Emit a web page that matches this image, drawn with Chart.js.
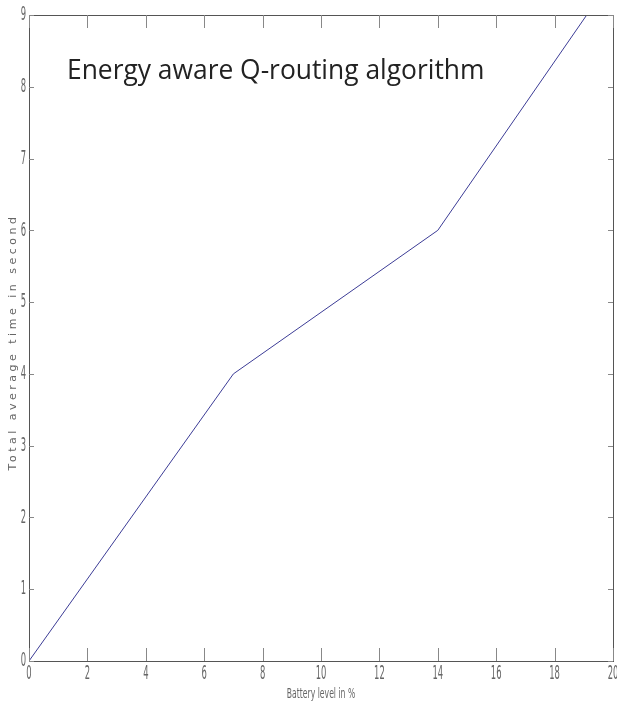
<!DOCTYPE html>
<html>
<head>
<meta charset="utf-8">
<script src="https://cdn.jsdelivr.net/npm/chart.js@4/dist/chart.umd.min.js"></script>
<style>
  html, body { margin: 0; padding: 0; background: #fff; }
  #wrap { width: 617px; height: 706px; }
</style>
</head>
<body>
<div id="wrap"><canvas id="lineChart"></canvas></div>
<script>
const batteryLevel = [0, 7, 14, 19.1];
const avgTime = [0, 4, 6, 9];
const xTicks = [0, 2, 4, 6, 8, 10, 12, 14, 16, 18, 20];
const yTicks = [0, 1, 2, 3, 4, 5, 6, 7, 8, 9];
const titleText = 'Energy aware Q-routing algorithm';
const yTitle = 'Total average time in second';
const xTitle = 'Battery level in %';

const axisColor = '#555';
const labelColor = '#666';

// squeezed text, the picture uses a very narrow font
function narrowText(ctx, text, x, y, size, squeeze, align) {
  ctx.save();
  ctx.translate(x, y);
  ctx.scale(squeeze, 1);
  ctx.font = size + 'px "DejaVu Sans", sans-serif';
  ctx.textAlign = align;
  ctx.textBaseline = 'middle';
  ctx.fillText(text, 0, 0);
  ctx.restore();
}

// box round the plot, inward ticks on all four sides, labels and title
const frame = {
  id: 'frame',
  afterDraw(chart) {
    const { ctx, chartArea: a, scales } = chart;
    ctx.save();
    ctx.strokeStyle = axisColor;
    ctx.lineWidth = 1;
    ctx.strokeRect(a.left + 0.5, a.top + 0.5, a.right - a.left, a.bottom - a.top);
    ctx.strokeStyle = '#888';
    ctx.beginPath();
    xTicks.forEach(v => {
      const px = Math.round(scales.x.getPixelForValue(v)) + 0.5;
      ctx.moveTo(px, a.bottom); ctx.lineTo(px, a.bottom - 13);
      ctx.moveTo(px, a.top); ctx.lineTo(px, a.top + 13);
    });
    yTicks.forEach(v => {
      const py = Math.round(scales.y.getPixelForValue(v)) + 0.5;
      ctx.moveTo(a.left, py); ctx.lineTo(a.left + 5, py);
      ctx.moveTo(a.right, py); ctx.lineTo(a.right - 5, py);
    });
    ctx.stroke();

    ctx.fillStyle = labelColor;
    xTicks.forEach(v => {
      narrowText(ctx, String(v), scales.x.getPixelForValue(v), a.bottom + 13, 20, 0.42, 'center');
    });
    yTicks.forEach(v => {
      narrowText(ctx, String(v), a.left - 3, scales.y.getPixelForValue(v), 20, 0.42, 'right');
    });
    narrowText(ctx, xTitle, (a.left + a.right) / 2, a.bottom + 33, 14, 0.55, 'center');

    ctx.fillStyle = '#222';
    ctx.font = '26.4px "Open Sans", sans-serif';
    ctx.textAlign = 'left';
    ctx.textBaseline = 'alphabetic';
    ctx.fillText(titleText, 67, 79);

    ctx.translate(13, 342);
    ctx.rotate(-Math.PI / 2);
    ctx.fillStyle = labelColor;
    ctx.font = '11px "DejaVu Sans", sans-serif';
    ctx.letterSpacing = '3.5px';
    ctx.textAlign = 'center';
    ctx.textBaseline = 'middle';
    ctx.fillText(yTitle, 0, 0);
    ctx.restore();
  }
};

new Chart(document.getElementById('lineChart').getContext('2d'), {
  type: 'line',
  data: {
    datasets: [{
      data: batteryLevel.map((x, i) => ({ x, y: avgTime[i] })),
      borderColor: 'rgb(60, 60, 150)',
      borderWidth: 1,
      pointRadius: 0,
      fill: false,
      tension: 0
    }]
  },
  plugins: [frame],
  options: {
    responsive: true,
    maintainAspectRatio: false,
    animation: false,
    layout: { padding: { top: 15, right: 4, left: 0, bottom: 0 } },
    plugins: {
      legend: { display: false },
      tooltip: { enabled: false }
    },
    scales: {
      x: {
        type: 'linear',
        min: 0,
        max: 20,
        afterBuildTicks: s => { s.ticks = xTicks.map(v => ({ value: v })); },
        afterFit: s => { s.height = 45; },
        grid: { display: false },
        border: { display: false },
        ticks: { display: false }
      },
      y: {
        min: 0,
        max: 9,
        afterBuildTicks: s => { s.ticks = yTicks.map(v => ({ value: v })); },
        afterFit: s => { s.width = 29; },
        grid: { display: false },
        border: { display: false },
        ticks: { display: false }
      }
    }
  }
});
</script>
</body>
</html>
